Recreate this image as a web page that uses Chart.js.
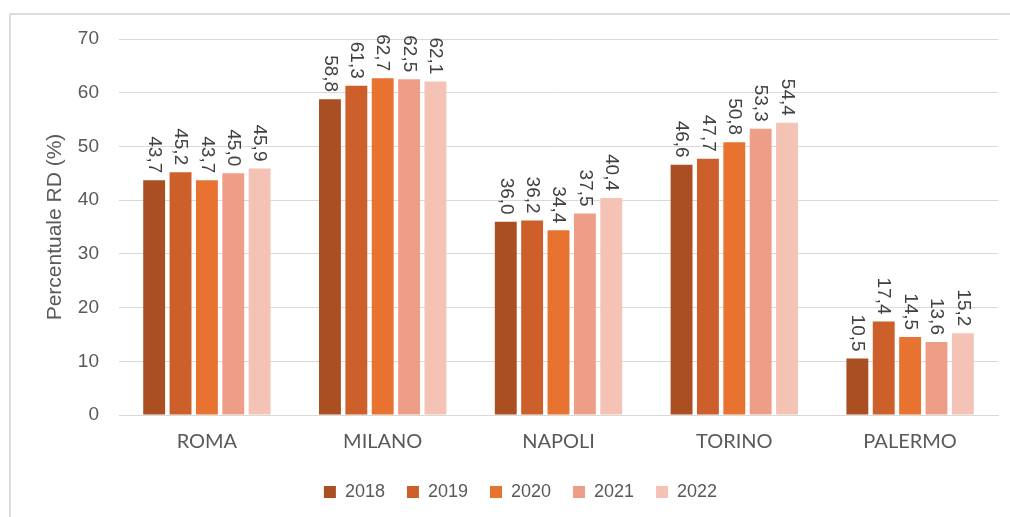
<!DOCTYPE html>
<html>
<head>
<meta charset="utf-8">
<script src="https://cdn.jsdelivr.net/npm/chart.js@4.4.1/dist/chart.umd.min.js"></script>
<style>
  html, body { margin: 0; padding: 0; background: #fff; }
  #frame {
    position: absolute; left: 9px; top: 13px; width: 1010px; height: 520px;
    border-left: 2px solid #dcdcdc; border-top: 2px solid #dcdcdc;
  }
  #wrap { position: absolute; left: 0; top: 0; width: 1010px; height: 517px; }
</style>
</head>
<body>
<div id="frame"></div>
<div id="wrap"><canvas id="rdChart" width="1010" height="517"></canvas></div>
<script>
"use strict";

var cities = ["ROMA", "MILANO", "NAPOLI", "TORINO", "PALERMO"];
var years = ["2018", "2019", "2020", "2021", "2022"];
var rd2018 = [43.7, 58.8, 36.0, 46.6, 10.5];
var rd2019 = [45.2, 61.3, 36.2, 47.7, 17.4];
var rd2020 = [43.7, 62.7, 34.4, 50.8, 14.5];
var rd2021 = [45.0, 62.5, 37.5, 53.3, 13.6];
var rd2022 = [45.9, 62.1, 40.4, 54.4, 15.2];
var yearColors = ["#a94f22", "#cc5f2a", "#e8722f", "#ee9e87", "#f4c3b6"];

var allSeries = [rd2018, rd2019, rd2020, rd2021, rd2022];
var sans = "'Liberation Sans', Arial, sans-serif";

// labels written vertically above each bar
var barLabels = {
  id: "barLabels",
  afterDatasetsDraw: function (chart) {
    var ctx = chart.ctx;
    ctx.save();
    ctx.font = "19px " + sans;
    ctx.fillStyle = "#404040";
    ctx.textAlign = "right";
    ctx.textBaseline = "middle";
    chart.data.datasets.forEach(function (ds, i) {
      chart.getDatasetMeta(i).data.forEach(function (bar, j) {
        var txt = ds.data[j].toFixed(1).replace(".", ",");
        ctx.save();
        ctx.translate(bar.x, bar.y - 7);
        ctx.rotate(Math.PI / 2);
        ctx.fillText(txt, 0, 0);
        ctx.restore();
      });
    });
    ctx.restore();
  },
};

var rdChart = new Chart(document.getElementById("rdChart").getContext("2d"), {
  type: "bar",
  data: {
    labels: cities,
    datasets: years.map(function (y, i) {
      return {
        label: y,
        data: allSeries[i],
        backgroundColor: yearColors[i],
        barPercentage: 0.83,
        categoryPercentage: 0.75,
      };
    }),
  },
  plugins: [barLabels],
  options: {
    responsive: false,
    animation: false,
    layout: { padding: { left: 43, right: 12, top: 39, bottom: 6 } },
    plugins: {
      tooltip: { enabled: false },
      legend: {
        position: "bottom",
        labels: {
          boxWidth: 12,
          boxHeight: 12,
          padding: 22,
          color: "#595959",
          font: { family: sans, size: 18 },
        },
      },
    },
    scales: {
      x: {
        grid: { display: false },
        border: { color: "#d9d9d9" },
        ticks: {
          color: "#595959",
          padding: 7,
          font: { family: "Lato, sans-serif", size: 20 },
        },
      },
      y: {
        min: 0,
        max: 70,
        afterFit: function (scale) {
          scale.width = 76;
        },
        ticks: {
          stepSize: 10,
          padding: 20,
          color: "#595959",
          font: { family: sans, size: 19 },
        },
        grid: { color: "#d9d9d9", drawTicks: false },
        border: { display: false },
        title: {
          display: true,
          text: "Percentuale RD (%)",
          color: "#595959",
          padding: { top: 0, bottom: 0 },
          font: { family: sans, size: 21 },
        },
      },
    },
  },
});
</script>
</body>
</html>
